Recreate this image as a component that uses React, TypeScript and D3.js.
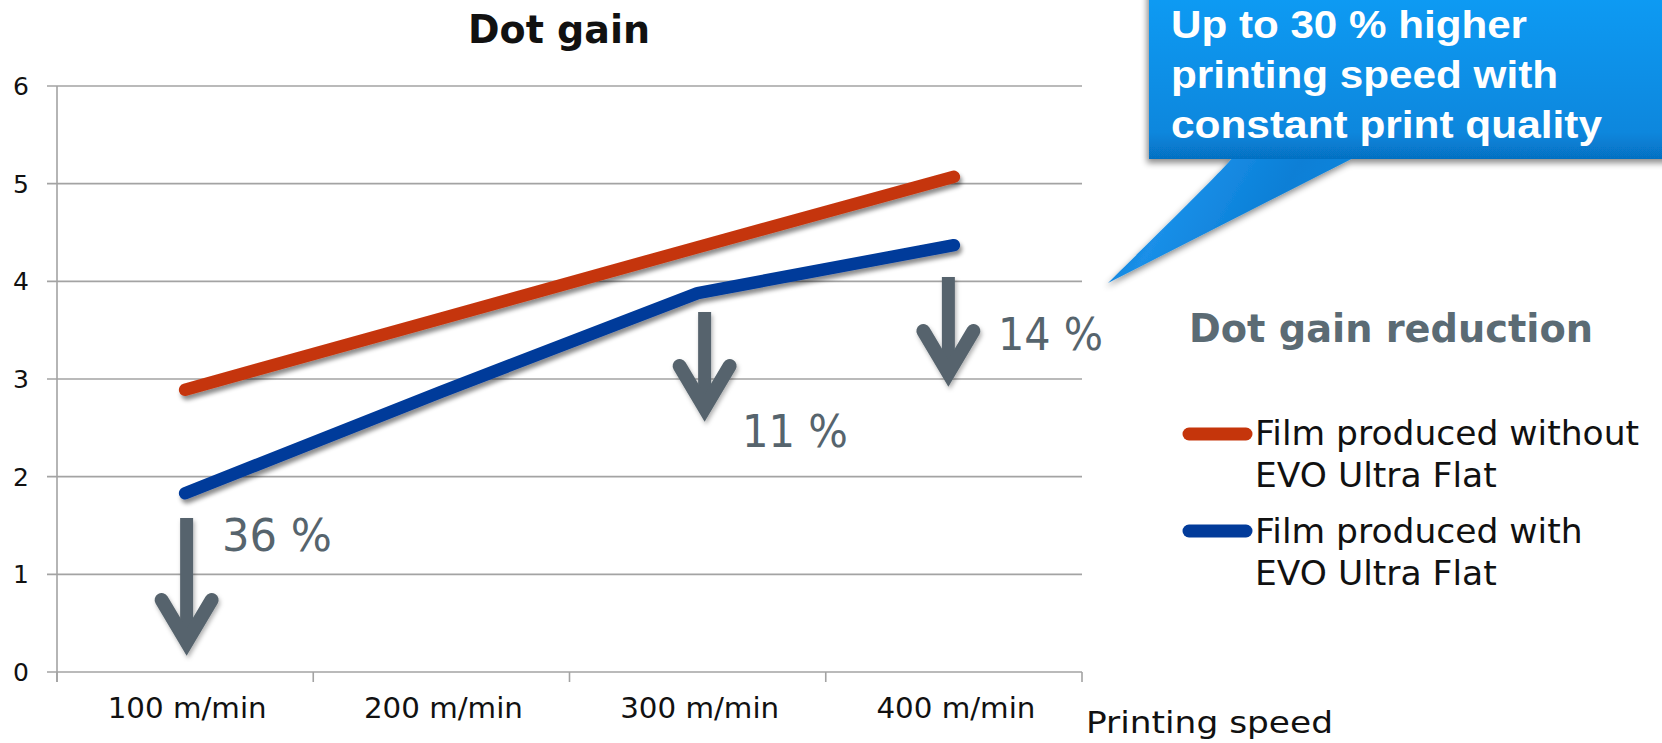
import React from "react";
import * as d3 from "d3";

const categories = ["100 m/min", "200 m/min", "300 m/min", "400 m/min"];
const withoutEvo = [2.89, 3.62, 4.35, 5.07];
const withEvo = [1.83, 2.87, 3.88, 4.37];
const yTicks = [0, 1, 2, 3, 4, 5, 6];
const reductionLabels = ["36 %", "11 %", "14 %"];
const reductionIndex = [0, 2, 3];
const seriesNames = [
  ["Film produced without", "EVO Ultra Flat"],
  ["Film produced with", "EVO Ultra Flat"],
];
const calloutLines = ["Up to 30 % higher", "printing speed with", "constant print quality"];

const W = 1662;
const H = 743;
const RED = "#C5350B";
const BLUE = "#023B9A";
const GRAY = "#56646D";

export default function App() {
  const x = d3.scaleBand<string>().domain(categories).range([57, 1082]).padding(0);
  const y = d3.scaleLinear().domain([0, 6]).range([672, 86]);
  const cx = (i: number) => (x(categories[i]) as number) + x.bandwidth() / 2;
  const line = d3
    .line<number>()
    .x((_, i) => cx(i))
    .y((d) => y(d));

  const arrows = [
    { dx: 1.5, top: 518, tip: 657, lx: 222, ly: 551, tl: 110 },
    { dx: 7, top: 312, tip: 423, lx: 742, ly: 447, tl: 106 },
    { dx: -5.5, top: 277, tip: 388, lx: 998, ly: 350, tl: 105 },
  ];

  const xTickPos = [...categories.map((c) => x(c) as number), 1082];

  return (
    <svg
      width={W}
      height={H}
      style={{ position: "absolute", left: 0, top: 0, background: "#fff" }}
      fontFamily="DejaVu Sans"
    >
      <defs>
        <filter id="lineShadow" x="-10%" y="-30%" width="130%" height="180%">
          <feDropShadow dx="2" dy="4" stdDeviation="2.2" floodColor="#000" floodOpacity="0.45" />
        </filter>
        <filter id="arrowShadow" x="-30%" y="-10%" width="160%" height="130%">
          <feDropShadow dx="1.5" dy="3" stdDeviation="2" floodColor="#000" floodOpacity="0.3" />
        </filter>
        <filter id="boxShadow" x="-20%" y="-20%" width="140%" height="160%">
          <feDropShadow dx="-2" dy="4" stdDeviation="3" floodColor="#000" floodOpacity="0.45" />
        </filter>
        <linearGradient id="boxGrad" x1="0" y1="0" x2="0" y2="1">
          <stop offset="0" stopColor="#0A9DF6" />
          <stop offset="0.85" stopColor="#0887DD" />
          <stop offset="1" stopColor="#0670C2" />
        </linearGradient>
        <linearGradient id="tailGrad" x1="0" y1="0" x2="1" y2="0.3">
          <stop offset="0" stopColor="#0A6FC0" />
          <stop offset="0.35" stopColor="#1A8FE8" />
          <stop offset="0.7" stopColor="#0A7FD6" />
          <stop offset="1" stopColor="#0A87DE" />
        </linearGradient>
      </defs>

      <text x={468} y={43} fontSize={39} fontWeight="bold" fill="#111" textLength={182} lengthAdjust="spacingAndGlyphs">
        Dot gain
      </text>

      {yTicks.map((t) => (
        <g key={t}>
          <line x1={47} x2={1082} y1={y(t)} y2={y(t)} stroke="#A3A3A3" strokeWidth={1.6} />
          <text x={29} y={y(t)} dy="0.36em" textAnchor="end" fontSize={25} fill="#111">
            {t}
          </text>
        </g>
      ))}
      <line x1={57} x2={57} y1={y(6)} y2={682} stroke="#A3A3A3" strokeWidth={1.6} />
      {xTickPos.map((p, i) => (
        <line key={i} x1={p} x2={p} y1={672} y2={682} stroke="#A3A3A3" strokeWidth={1.6} />
      ))}
      {categories.map((c, i) => (
        <text key={c} x={cx(i) + 2} y={718} textAnchor="middle" fontSize={29} fill="#111" textLength={159} lengthAdjust="spacingAndGlyphs">
          {c}
        </text>
      ))}
      <text x={1086} y={733} fontSize={31} fill="#111" textLength={247} lengthAdjust="spacingAndGlyphs">
        Printing speed
      </text>

      <g filter="url(#lineShadow)">
        <path d={line(withoutEvo) || ""} fill="none" stroke={RED} strokeWidth={12.5} strokeLinecap="round" strokeLinejoin="round" />
        <path d={line(withEvo) || ""} fill="none" stroke={BLUE} strokeWidth={12.5} strokeLinecap="round" strokeLinejoin="round" />
      </g>

      {reductionIndex.map((idx, k) => {
        const a = arrows[k];
        const ax = cx(idx) + a.dx;
        return (
          <g key={k}>
            <g filter="url(#arrowShadow)" stroke={GRAY} fill="none">
              <line x1={ax} x2={ax} y1={a.top} y2={a.tip - 20} strokeWidth={13} />
              <path
                d={`M${ax - 25},${a.tip - 57} L${ax},${a.tip - 15} L${ax + 25},${a.tip - 57}`}
                strokeWidth={14}
                strokeLinecap="round"
                strokeLinejoin="miter"
              />
            </g>
            <text x={a.lx} y={a.ly} fontSize={44} fill={GRAY} textLength={a.tl} lengthAdjust="spacingAndGlyphs">
              {reductionLabels[k]}
            </text>
          </g>
        );
      })}

      <text x={1189} y={342} fontSize={39} fontWeight="bold" fill="#5B6B74" textLength={404} lengthAdjust="spacingAndGlyphs">
        Dot gain reduction
      </text>
      {[RED, BLUE].map((col, i) => {
        const ly = 434 + i * 97;
        return (
          <g key={i}>
            <line x1={1189} x2={1246} y1={ly} y2={ly} stroke={col} strokeWidth={13} strokeLinecap="round" />
            <text x={1255} y={445 + i * 98} fontSize={34.5} fill="#111">
              {seriesNames[i][0]}
            </text>
            <text x={1255} y={487 + i * 98} fontSize={34.5} fill="#111">
              {seriesNames[i][1]}
            </text>
          </g>
        );
      })}

      <g filter="url(#boxShadow)">
        <path d="M1238,150 C1232,160 1225,168 1108,283 L1369,150 Z" fill="url(#tailGrad)" />
        <rect x={1149} y={-20} width={540} height={179} fill="url(#boxGrad)" />
      </g>
      {calloutLines.map((l, i) => (
        <text
          key={i}
          x={1171}
          y={38 + i * 50}
          fontFamily="Liberation Sans, Arial, sans-serif"
          fontWeight="bold"
          fontSize={38}
          fill="#fff"
          textLength={[356, 387, 431][i]}
          lengthAdjust="spacingAndGlyphs"
        >
          {l}
        </text>
      ))}
    </svg>
  );
}
